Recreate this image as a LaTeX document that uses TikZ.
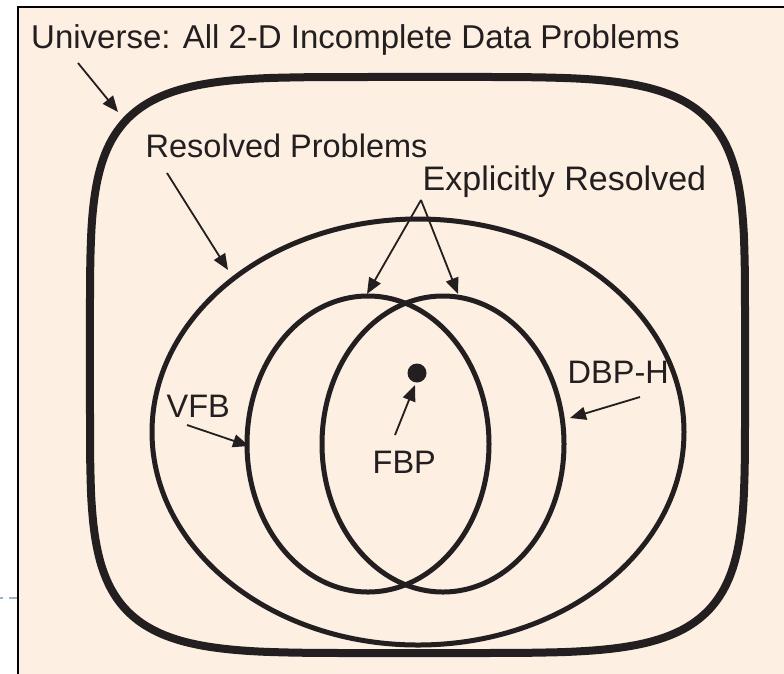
\documentclass[tikz,border=0pt]{standalone}
\usepackage{fontspec}
\setmainfont{Liberation Sans}
\usetikzlibrary{arrows.meta}
\definecolor{paper}{RGB}{253,239,225}
\definecolor{ink}{RGB}{35,31,32}
\definecolor{guide}{RGB}{157,179,204}
\begin{document}
\begin{tikzpicture}[x=1pt,y=-1pt,
  tagtext/.style={font=\fontsize{32.5}{36}\selectfont, text=ink, inner sep=0pt, anchor=base west},
  pointer/.style={draw=ink, line width=1.8pt, -{Triangle[length=16pt,width=13pt]}},
  setline/.style={draw=ink, line width=5pt}]
\useasboundingbox (0,0) rectangle (784,673);

% page panel and its frame
\fill[paper] (17.5,7) rectangle (790,680);
\draw[black, line width=2pt] (17.5,680) -- (17.5,7) -- (790,7);
\draw[guide, line width=2pt, dash pattern=on 8pt off 6pt] (17,598) -- (0,598);

% universe: rounded square (superellipse, exponent 5)
\draw[ink, line width=8pt, line join=round] plot[domain=0.5:360.5, samples=181, smooth]
  ({417.5+327.5*sign(cos(\x))*pow(abs(cos(\x)),0.4)},
   {365+288*sign(sin(\x))*pow(abs(sin(\x)),0.4)}) -- cycle;

% resolved problems
\draw[setline] (418,432) ellipse [x radius=266, y radius=213];

% VFB and DBP-H regions
\draw[setline] (368,444) ellipse [x radius=121, y radius=148];
\draw[setline] (443,444) ellipse [x radius=121, y radius=148];

% FBP point
\fill[ink] (417,373) circle (9.5);

% labels
\node[tagtext, font=\fontsize{33}{36}\selectfont] (univ) at (31,48) {Universe: All 2-D Incomplete Data Problems};
\node[tagtext] (resolved) at (145.5,157) {Resolved Problems};
\node[tagtext, font=\fontsize{34}{38}\selectfont] (explicit) at (422.5,190) {Explicitly Resolved};
\node[tagtext] (vfb) at (166.5,417) {VFB};
\node[tagtext] (dbph) at (567.5,383) {DBP-H};
\node[tagtext] (fbp) at (372.5,473) {FBP};

% arrow ends
\coordinate (univFrom) at (78,63);
\coordinate (univTo) at (118,112);
\coordinate (resFrom) at (167,173);
\coordinate (resTo) at (228,270);
\coordinate (expFrom) at (421,200);
\coordinate (expToL) at (367,294);
\coordinate (expToR) at (458,294);
\coordinate (vfbFrom) at (187,425);
\coordinate (vfbTo) at (249,446);
\coordinate (dbpFrom) at (640,397);
\coordinate (dbpTo) at (570,418);
\coordinate (fbpFrom) at (395,435);
\coordinate (fbpTo) at (415,385);

\draw[pointer] (univFrom) -- (univTo);
\draw[pointer] (resFrom) -- (resTo);
\draw[pointer] (expFrom) -- (expToL);
\draw[pointer] (expFrom) -- (expToR);
\draw[pointer] (vfbFrom) -- (vfbTo);
\draw[pointer] (dbpFrom) -- (dbpTo);
\draw[pointer] (fbpFrom) -- (fbpTo);
\end{tikzpicture}
\end{document}
